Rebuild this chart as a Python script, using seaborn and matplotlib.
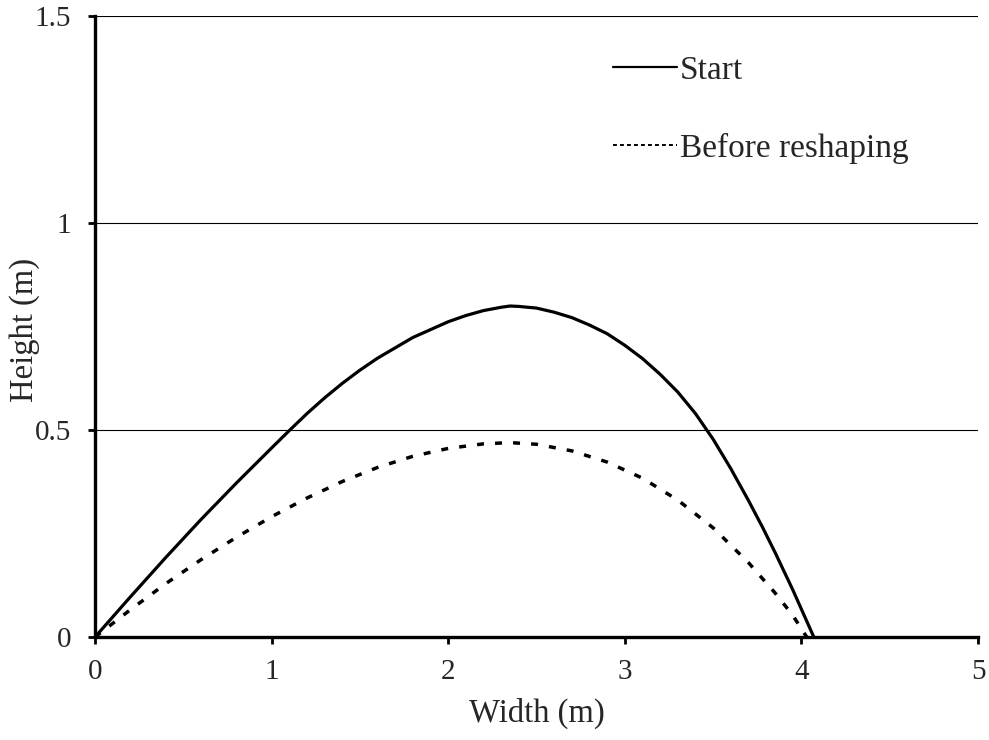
import matplotlib
matplotlib.use("Agg")
import matplotlib.pyplot as plt
import seaborn as sns
import pandas as pd

# Profile of the arch (width vs height, metres)
start_x = [0, 0.2, 0.4, 0.6, 0.8, 1.0, 1.1, 1.2, 1.3, 1.4, 1.5, 1.6, 1.8, 2.0, 2.1,
           2.2, 2.3, 2.35, 2.4, 2.5, 2.6, 2.7, 2.8, 2.9, 3.0, 3.1, 3.2, 3.3, 3.4,
           3.5, 3.6, 3.7, 3.78, 3.85, 3.95, 4.07]
start_y = [0, 0.097, 0.192, 0.284, 0.372, 0.457, 0.499, 0.540, 0.578, 0.613, 0.645,
           0.674, 0.724, 0.762, 0.777, 0.789, 0.797, 0.800, 0.799, 0.795, 0.785,
           0.772, 0.754, 0.733, 0.705, 0.673, 0.635, 0.592, 0.540, 0.478, 0.407,
           0.330, 0.265, 0.205, 0.115, 0]

before_x = [0, 0.2, 0.4, 0.6, 0.8, 1.0, 1.2, 1.4, 1.6, 1.8, 2.0, 2.2, 2.35, 2.5,
            2.7, 2.9, 3.1, 3.3, 3.5, 3.7, 3.85, 3.95, 4.03]
before_y = [0, 0.066, 0.129, 0.187, 0.241, 0.291, 0.336, 0.376, 0.410, 0.437, 0.456,
            0.467, 0.470, 0.466, 0.450, 0.423, 0.384, 0.331, 0.264, 0.180, 0.107,
            0.053, 0]

x_ticks = [0, 1, 2, 3, 4, 5]
y_ticks = [0, 0.5, 1, 1.5]
y_tick_labels = ["0", "0.5", "1", "1.5"]

sns.set_style("white")
plt.rcParams["font.family"] = ["Liberation Serif", "DejaVu Serif"]

fig, ax = plt.subplots(figsize=(9.89, 7.40), dpi=100)
fig.subplots_adjust(left=0.096, right=0.989, bottom=0.139, top=0.978)

df_start = pd.DataFrame({"Width": start_x, "Height": start_y})
df_before = pd.DataFrame({"Width": before_x, "Height": before_y})

sns.lineplot(data=df_start, x="Width", y="Height", sort=False, color="black",
             linewidth=2.3, ax=ax, label="Start", zorder=3)
sns.lineplot(data=df_before, x="Width", y="Height", sort=False, color="black",
             linewidth=2.5, ax=ax, label="Before reshaping", zorder=3)
ax.lines[1].set_dashes((2.0, 3.2))
for ln in ax.lines:
    ln.set_solid_joinstyle("round")

ax.set_xlim(0, 5)
ax.set_ylim(0, 1.5)
ax.set_xticks(x_ticks)
ax.set_xticklabels([str(t) for t in x_ticks])
ax.set_yticks(y_ticks)
ax.set_yticklabels(y_tick_labels)

ax.yaxis.grid(True, color="black", linewidth=0.8)
ax.xaxis.grid(False)
ax.set_axisbelow(True)

for side in ("top", "right"):
    ax.spines[side].set_visible(False)
for side in ("left", "bottom"):
    ax.spines[side].set_color("black")
    ax.spines[side].set_linewidth(2.4)

ax.tick_params(axis="both", which="major", direction="out", length=5, width=2,
               color="black", labelsize=21, bottom=True, left=True)
ax.tick_params(axis="y", pad=12)
ax.tick_params(axis="x", pad=11)

ax.set_xlabel("Width (m)", fontsize=23.5, labelpad=9)
ax.set_ylabel("Height (m)", fontsize=23.5)
ax.yaxis.set_label_coords(-0.062, 0.494)

handles, labels = ax.get_legend_handles_labels()
leg = ax.legend(handles, labels, loc="upper left", bbox_to_anchor=(0.587, 0.937),
                frameon=False, fontsize=24, handlelength=1.9, handletextpad=0.1,
                labelspacing=1.4, borderaxespad=0, borderpad=0)
leg_lines = leg.get_lines()
leg_lines[0].set_linewidth(1.6)
leg_lines[1].set_linewidth(1.4)
leg_lines[1].set_dashes((2.0, 1.6))

fig.savefig("out.png", dpi=100)
